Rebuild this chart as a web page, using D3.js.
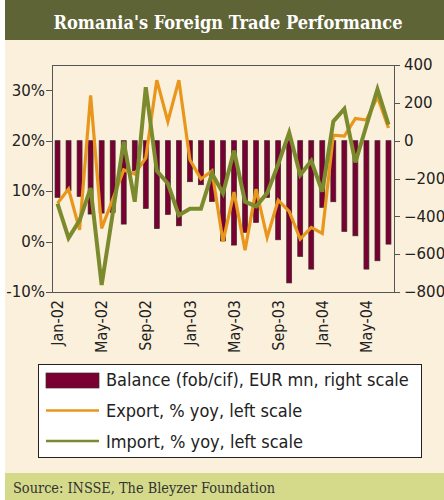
<!DOCTYPE html>
<html>
<meta http-equiv="content-type" content="text/html; charset=utf-8" />
<head>
    <title>Romania's Foreign Trade Performance</title>
</head>

<style>
body { margin: 0; background: #fff; }
.axis text {
  font: 15px "DejaVu Sans", sans-serif;
  fill: #222;
}
.axis path,
.axis line {
  fill: none;
  stroke: #555;
  shape-rendering: crispEdges;
}
.legend text {
  font: 18px "DejaVu Sans Condensed", "DejaVu Sans", sans-serif;
  fill: #222;
}
</style>

<body>
<svg class="chart"></svg>
<script src="https://d3js.org/d3.v7.min.js"></script>

<script type="text/javascript">
  // monthly categories, Jan-02 .. Jul-04
  var months = ["Jan-02","Feb-02","Mar-02","Apr-02","May-02","Jun-02","Jul-02","Aug-02","Sep-02","Oct-02","Nov-02","Dec-02",
                "Jan-03","Feb-03","Mar-03","Apr-03","May-03","Jun-03","Jul-03","Aug-03","Sep-03","Oct-03","Nov-03","Dec-03",
                "Jan-04","Feb-04","Mar-04","Apr-04","May-04","Jun-04","Jul-04"];

  // trade balance, EUR mn (right scale)
  var balance = [-300, -265, -295, -388, -383, -380, -441, -160, -358, -465, -390, -450,
                 -217, -233, -322, -530, -552, -485, -432, -300, -524, -752, -612, -679,
                 -353, -323, -480, -503, -679, -635, -547];

  // export, % yoy (left scale)
  var exportYoy = [7.6, 10.4, 2.3, 29.0, 2.6, 8.3, 14.2, 13.4, 16.6, 32.0, 23.8, 32.0,
                   16.2, 12.4, 14.0, 0.0, 9.8, -1.7, 10.4, 0.8, 8.2, 6.0, 0.5, 2.8,
                   1.6, 21.1, 20.9, 24.4, 24.1, 28.7, 22.5];

  // import, % yoy (left scale)
  var importYoy = [7.5, 0.7, 4.2, 10.6, -8.6, 5.5, 19.8, 7.9, 30.6, 14.0, 11.5, 5.2,
                   6.5, 6.5, 13.5, 9.6, 18.0, 7.9, 7.0, 9.6, 15.3, 21.6, 13.2, 16.0,
                   9.9, 23.8, 26.3, 15.7, 23.0, 30.2, 23.2];

  var leftTicks = [-10, 0, 10, 20, 30];
  var rightTicks = [-800, -600, -400, -200, 0, 200, 400];
  var xTickLabels = ["Jan-02","May-02","Sep-02","Jan-03","May-03","Sep-03","Jan-04","May-04"];

  var legendItems = ["Balance (fob/cif), EUR mn, right scale", "Export, % yoy, left scale", "Import, % yoy, left scale"];

  var W = 444, H = 500;
  var plot = {left: 52, right: 394, top: 65, bottom: 292};

  var barColor = "#7a0033", exportColor = "#e8961c", importColor = "#7b8a2c";

  var svg = d3.select(".chart")
    .attr("width", W)
    .attr("height", H);

  // panel background
  svg.append("rect").attr("x", 5).attr("y", 0).attr("width", W - 5).attr("height", H).attr("fill", "#fbf0db");
  svg.append("rect").attr("x", 5).attr("y", 0).attr("width", W - 5).attr("height", 40).attr("fill", "#5f6437");
  svg.append("rect").attr("x", 5).attr("y", 473).attr("width", W - 5).attr("height", 27).attr("fill", "#d5da8b");

  svg.append("text")
    .attr("x", 228).attr("y", 29)
    .attr("text-anchor", "middle")
    .attr("textLength", 349)
    .attr("lengthAdjust", "spacingAndGlyphs")
    .style("font", "bold 18px 'DejaVu Serif Condensed', 'DejaVu Serif', serif")
    .style("fill", "#fff")
    .text("Romania's Foreign Trade Performance");

  svg.append("text")
    .attr("x", 13).attr("y", 493)
    .attr("textLength", 262)
    .attr("lengthAdjust", "spacingAndGlyphs")
    .style("font", "14px 'DejaVu Serif Condensed', 'DejaVu Serif', serif")
    .style("fill", "#333")
    .text("Source: INSSE, The Bleyzer Foundation");

  var xScale = d3.scaleBand()
    .domain(months)
    .range([plot.left, plot.right])
    .paddingInner(0.55)
    .paddingOuter(0.275);

  var yLeft = d3.scaleLinear().domain([-10, 35]).range([plot.bottom, plot.top]);
  var yRight = d3.scaleLinear().domain([-800, 400]).range([plot.bottom, plot.top]);

  var cx = function(i) { return xScale(months[i]) + xScale.bandwidth() / 2; };

  // bars
  svg.append("g").selectAll("rect")
    .data(balance).enter()
    .append("rect")
      .attr("x", function(d, i) { return xScale(months[i]); })
      .attr("y", yRight(0))
      .attr("width", xScale.bandwidth())
      .attr("height", function(d) { return yRight(d) - yRight(0); })
      .attr("fill", barColor)
      .attr("stroke", "#3b2b2b")
      .attr("stroke-width", 0.7);

  var line = d3.line()
    .x(function(d, i) { return cx(i); })
    .y(function(d) { return yLeft(d); });

  svg.append("path").datum(exportYoy)
    .attr("d", line)
    .attr("fill", "none")
    .attr("stroke", exportColor)
    .attr("stroke-width", 3.2)
    .attr("stroke-linejoin", "miter");

  svg.append("path").datum(importYoy)
    .attr("d", line)
    .attr("fill", "none")
    .attr("stroke", importColor)
    .attr("stroke-width", 4)
    .attr("stroke-linejoin", "miter");

  // frame
  svg.append("line").attr("x1", plot.left).attr("x2", plot.right).attr("y1", plot.top + 0.5).attr("y2", plot.top + 0.5)
    .attr("stroke", "#555");

  svg.append("g")
    .attr("class", "axis")
    .attr("transform", "translate(" + plot.left + ",0)")
    .call(d3.axisLeft(yLeft).tickValues(leftTicks).tickSize(6).tickSizeOuter(0)
      .tickFormat(function(d) { return d + "%"; }))
    .selectAll("text").attr("x", -7);

  svg.append("g")
    .attr("class", "axis")
    .attr("transform", "translate(" + plot.right + ",0)")
    .call(d3.axisRight(yRight).tickValues(rightTicks).tickSize(6).tickSizeOuter(0))
    .selectAll("text").attr("x", 10);

  var xAxis = svg.append("g")
    .attr("class", "axis")
    .attr("transform", "translate(0," + plot.bottom + ")")
    .call(d3.axisBottom(xScale).tickValues(xTickLabels).tickSize(0).tickSizeOuter(0));

  xAxis.selectAll("text")
    .attr("transform", "rotate(-90)")
    .attr("x", -8)
    .attr("y", 0)
    .attr("dy", "0.35em")
    .style("text-anchor", "end")
    .style("font", "16px 'DejaVu Sans Condensed', 'DejaVu Sans', sans-serif");

  // legend
  var legend = svg.append("g").attr("class", "legend");
  legend.append("rect")
    .attr("x", 38.5).attr("y", 364.5).attr("width", 383).attr("height", 93)
    .attr("fill", "#fff").attr("stroke", "#222");

  legend.append("rect")
    .attr("x", 46).attr("y", 373).attr("width", 53).attr("height", 15)
    .attr("fill", barColor).attr("stroke", "#3b2b2b").attr("stroke-width", 0.7);
  legend.append("line")
    .attr("x1", 46).attr("x2", 99).attr("y1", 410.5).attr("y2", 410.5)
    .attr("stroke", exportColor).attr("stroke-width", 2.5);
  legend.append("line")
    .attr("x1", 46).attr("x2", 99).attr("y1", 441).attr("y2", 441)
    .attr("stroke", importColor).attr("stroke-width", 2.5);

  legend.selectAll("text.item")
    .data(legendItems).enter()
    .append("text")
      .attr("class", "item")
      .attr("x", 106)
      .attr("y", function(d, i) { return 386 + i * 31; })
      .text(function(d) { return d; });
</script>
</body>
</html>
